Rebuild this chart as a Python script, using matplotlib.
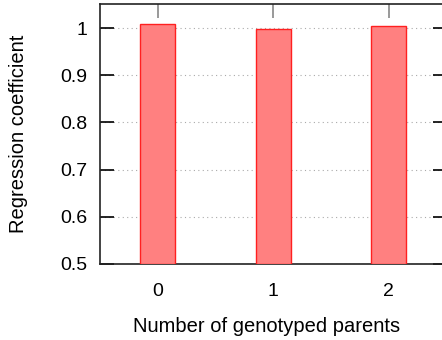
import matplotlib
matplotlib.use("Agg")
import matplotlib.pyplot as plt

categories = [0, 1, 2]
tick_labels = ["0", "1", "2"]
values = [1.0085, 0.999, 1.004]

plt.rcParams['font.family'] = ['Liberation Sans', 'DejaVu Sans']

W, H = 442, 340
fig = plt.figure(figsize=(W / 100, H / 100), dpi=100)
left, right, top, bottom = 100, 446.5, 4, 264
ax = fig.add_axes([left / W, 1 - bottom / H, (right - left) / W, (bottom - top) / H])

ax.bar(categories, [v - 0.5 for v in values], bottom=0.5, width=0.3,
       color='#ff8080', edgecolor='#ff2020', linewidth=1.0, zorder=3)

ax.set_xlim(-0.5, 2.5)
ax.set_ylim(0.5, 1.051)
ax.set_yticks([0.5, 0.6, 0.7, 0.8, 0.9, 1.0])
ax.set_yticklabels(["0.5", "0.6", "0.7", "0.8", "0.9", "1"])
ax.set_xticks(categories)
ax.set_xticklabels(tick_labels)

ax.yaxis.grid(True, linestyle=(0, (1, 3)), color='#aaaaaa', linewidth=0.8, zorder=0)
ax.set_axisbelow(True)

ax.tick_params(axis='y', direction='in', length=10, width=1.2, colors='black',
               left=True, right=True, labelsize=14, pad=9)
ax.tick_params(axis='x', direction='in', length=10, width=1.2, bottom=False, top=True,
               color='#888888', labelcolor='black', labelsize=14, pad=14)

for s in ax.spines.values():
    s.set_linewidth(1.2)
    s.set_color('#222222')

ax.set_xlabel("Number of genotyped parents", fontsize=14.5)
ax.set_ylabel("Regression coefficient", fontsize=14.5)
ax.xaxis.set_label_coords((266.5 - left) / (right - left), -(326 - bottom) / (bottom - top))
ax.xaxis.label.set_va('center')
ax.yaxis.set_label_coords(-(100 - 19) / (right - left), 0.5)
ax.yaxis.label.set_va('center')

fig.savefig("out.png", dpi=100)
